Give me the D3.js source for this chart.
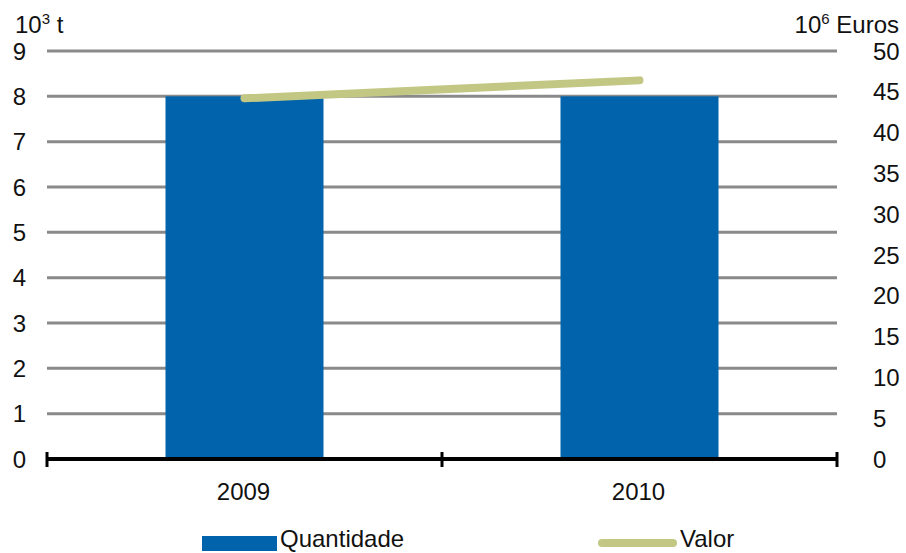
<!DOCTYPE html>
<html>
<head>
<meta charset="utf-8">
<script src="https://cdn.jsdelivr.net/npm/d3@7"></script>
<style>
  body { margin: 0; background: #fff; }
  text { font-family: "Liberation Sans", Arial, sans-serif; fill: #111; }
</style>
</head>
<body>
<svg id="chart" width="906" height="553"></svg>
<script>
// data
const years = ["2009", "2010"];
const quantidade = [8.0, 8.0];      // 10^3 t
const valor = [44.2, 46.4];         // 10^6 Euros
const leftTicks = [0, 1, 2, 3, 4, 5, 6, 7, 8, 9];
const rightTicks = [0, 5, 10, 15, 20, 25, 30, 35, 40, 45, 50];

const svg = d3.select("#chart");
const plotLeft = 47, plotRight = 837, plotTop = 51, plotBottom = 459;
const fs = 24;

const x = d3.scaleBand().domain(years).range([plotLeft, plotRight]).paddingInner(0).paddingOuter(0);
const yL = d3.scaleLinear().domain([0, 9]).range([plotBottom, plotTop]);
const yR = d3.scaleLinear().domain([0, 50]).range([plotBottom, plotTop]);

// grid lines
svg.append("g").selectAll("line.grid")
  .data(leftTicks.filter(d => d > 0))
  .join("line")
  .attr("class", "grid")
  .attr("x1", plotLeft).attr("x2", plotRight)
  .attr("y1", d => yL(d)).attr("y2", d => yL(d))
  .attr("stroke", "#8a8a8a")
  .attr("stroke-width", 3);

// bars
const barW = x.bandwidth() * 0.4;
svg.append("g").selectAll("rect.bar")
  .data(years)
  .join("rect")
  .attr("class", "bar")
  .attr("x", d => x(d) + x.bandwidth() / 2 - barW / 2)
  .attr("y", (d, i) => yL(quantidade[i]))
  .attr("width", barW)
  .attr("height", (d, i) => plotBottom - yL(quantidade[i]))
  .attr("fill", "#0063ab");

// value line
const line = d3.line()
  .x((d, i) => x(years[i]) + x.bandwidth() / 2)
  .y(d => yR(d));
svg.append("path")
  .datum(valor)
  .attr("d", line)
  .attr("fill", "none")
  .attr("stroke", "#c3c784")
  .attr("stroke-width", 8)
  .attr("stroke-linecap", "round");

// x axis
svg.append("line")
  .attr("x1", plotLeft).attr("x2", plotRight)
  .attr("y1", plotBottom).attr("y2", plotBottom)
  .attr("stroke", "#000").attr("stroke-width", 4);
const tickX = years.map(d => x(d)).concat([plotRight]);
svg.append("g").selectAll("line.tick")
  .data(tickX)
  .join("line")
  .attr("x1", d => d).attr("x2", d => d)
  .attr("y1", plotBottom - 7).attr("y2", plotBottom + 8)
  .attr("stroke", "#000").attr("stroke-width", 3);

svg.append("g").selectAll("text.year")
  .data(years)
  .join("text")
  .attr("x", d => x(d) + x.bandwidth() / 2 - 1)
  .attr("y", 500)
  .attr("text-anchor", "middle")
  .attr("font-size", fs)
  .text(d => d);

// left axis labels
svg.append("g").selectAll("text.yl")
  .data(leftTicks)
  .join("text")
  .attr("x", 26)
  .attr("y", d => yL(d) + 8.5)
  .attr("text-anchor", "end")
  .attr("font-size", fs)
  .text(d => d);

// right axis labels
svg.append("g").selectAll("text.yr")
  .data(rightTicks)
  .join("text")
  .attr("x", 873)
  .attr("y", d => yR(d) + 8.5)
  .attr("text-anchor", "start")
  .attr("font-size", fs)
  .text(d => d);

// unit labels
const ul = svg.append("text").attr("x", 15).attr("y", 33).attr("font-size", fs);
ul.append("tspan").text("10");
ul.append("tspan").attr("font-size", 15).attr("dy", -9).text("3");
ul.append("tspan").attr("dy", 9).text(" t");

const ur = svg.append("text").attr("x", 899).attr("y", 33).attr("font-size", fs).attr("text-anchor", "end");
ur.append("tspan").text("10");
ur.append("tspan").attr("font-size", 15).attr("dy", -9).text("6");
ur.append("tspan").attr("dy", 9).text(" Euros");

// legend
svg.append("rect")
  .attr("x", 202).attr("y", 536).attr("width", 75).attr("height", 15)
  .attr("fill", "#0063ab");
svg.append("text").attr("x", 280).attr("y", 547).attr("font-size", fs).text("Quantidade");

svg.append("line")
  .attr("x1", 602).attr("x2", 673).attr("y1", 543).attr("y2", 543)
  .attr("stroke", "#c3c784").attr("stroke-width", 8).attr("stroke-linecap", "round");
svg.append("text").attr("x", 680).attr("y", 547).attr("font-size", fs).text("Valor");
</script>
</body>
</html>
